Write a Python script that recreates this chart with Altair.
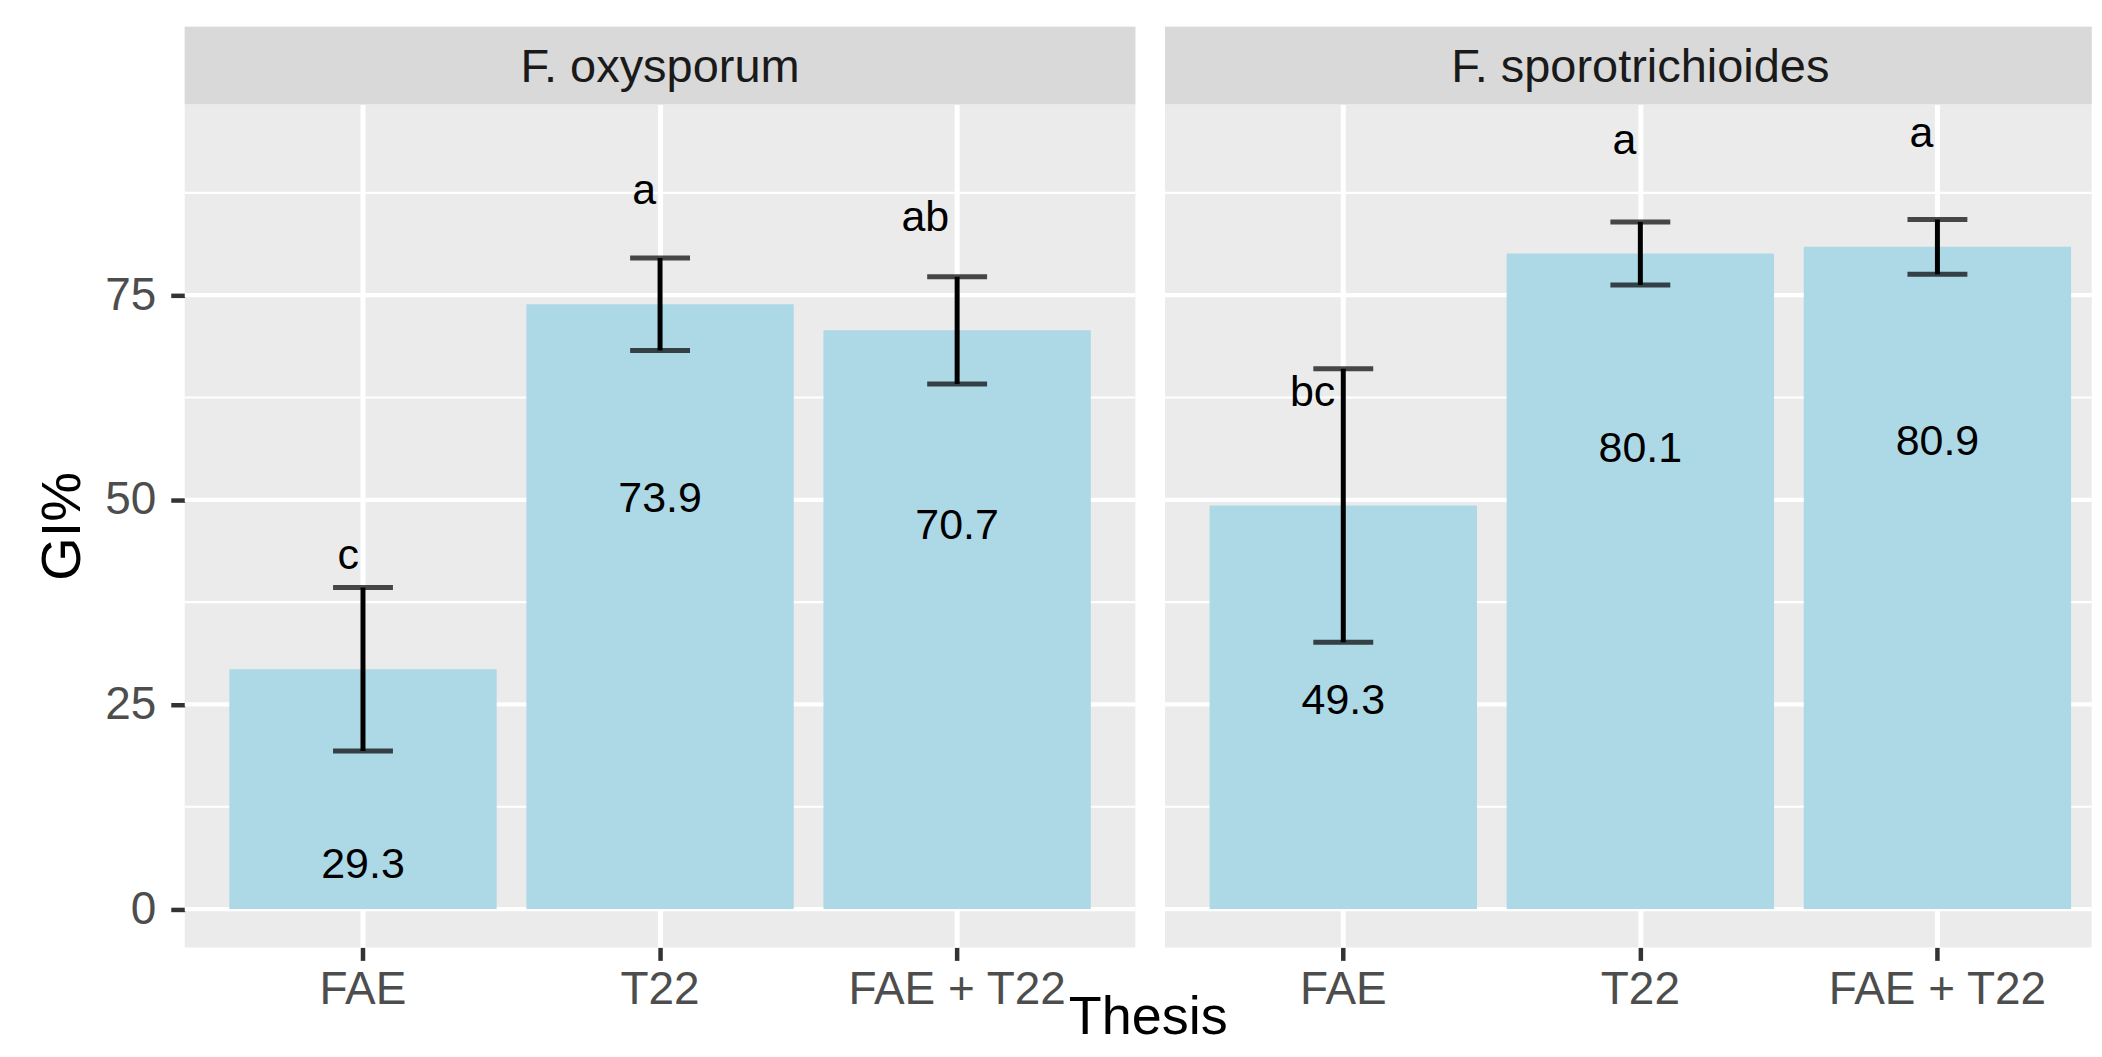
import altair as alt
import pandas as pd

# ---------------- data ----------------
theses = ["FAE", "T22", "FAE + T22"]
panel_names = ["F. oxysporum", "F. sporotrichioides"]

gi_oxy = [29.3, 73.9, 70.7]
sd_oxy = [10.0, 5.65, 6.55]
letters_oxy = ["c", "a", "ab"]

gi_spo = [49.3, 80.1, 80.9]
sd_spo = [16.7, 3.85, 3.35]
letters_spo = ["bc", "a", "a"]

major_grid = [0, 25, 50, 75]
minor_grid = [12.5, 37.5, 62.5, 87.5]

# ---------------- style ----------------
FONT = "Liberation Sans"
PW = 952          # full panel width
RIGHT_W = 928     # visible width of right panel (clipped by image edge)
PH = 844
STRIP_H = 78
Y_DOM = [-4.68, 98.28]
BAR = "#ADD8E6"
PANEL_BG = "#EBEBEB"
STRIP_BG = "#D9D9D9"
LETTER_UP = 12.2
LABEL_DOWN = 25.45
MAJOR_W = 4.3

P_IN = 0.1
P_OUT = 0.15
STEP = PW / (3 - P_IN + 2 * P_OUT)


def x_scale(width):
    if width >= PW:
        return alt.Scale(domain=theses, range=[0, width], paddingInner=P_IN,
                         paddingOuter=P_OUT)
    # same step/band positions as the full panel, just cut at the right edge
    po = (width / STEP - (3 - P_IN)) / 2
    leftover = 2 * po * STEP
    align = (P_OUT * STEP) / leftover
    return alt.Scale(domain=theses, range=[0, width], paddingInner=P_IN,
                     paddingOuter=po, align=align)


def make_panel(gi, sd, letters, width, show_y):
    df = pd.DataFrame({"Thesis": theses, "GI": gi, "SD": sd, "letter": letters})
    yscale = alt.Scale(domain=Y_DOM, nice=False, zero=False)
    xaxis = alt.Axis(
        title=None, domain=False, grid=True, gridColor="white", gridWidth=5.0,
        tickColor="#333333", tickWidth=4.5, tickSize=13, labelPadding=7,
        labelFontSize=46, labelColor="#4D4D4D", labelFont=FONT, labelAngle=0,
        labelLimit=0,
    )
    if show_y:
        yaxis = alt.Axis(
            values=major_grid, title="GI%", grid=False, domain=False,
            tickColor="#333333", tickWidth=4.5, tickSize=14, labelPadding=15,
            labelFontSize=46, labelColor="#4D4D4D", labelFont=FONT,
            titleFontSize=56, titleFont=FONT, titleFontWeight="normal",
            titleColor="black", titlePadding=25, titleBaseline="alphabetic",
        )
    else:
        yaxis = None
    X = alt.X("Thesis:N", scale=x_scale(width), sort=theses, axis=xaxis)

    def Y(field):
        return alt.Y(field, scale=yscale, axis=yaxis, title="GI%")

    minor = alt.Chart(pd.DataFrame({"GI": minor_grid})).mark_rule(
        color="white", strokeWidth=2.2).encode(y=Y("GI:Q"))
    major = alt.Chart(pd.DataFrame({"GI": major_grid})).mark_rule(
        color="white", strokeWidth=MAJOR_W).encode(y=Y("GI:Q"))

    base = alt.Chart(df).transform_calculate(
        lo="datum.GI - datum.SD",
        hi="datum.GI + datum.SD",
        let_y="datum.GI + %f" % LETTER_UP,
        lab_y="datum.GI - %f" % LABEL_DOWN,
        lab="format(datum.GI, '.1f')",
        nlet="length(datum.letter)",
    )
    bars = base.mark_bar(color=BAR).encode(x=X, y=Y("GI:Q"), y2=alt.datum(0))
    stems = base.mark_rule(color="black", strokeWidth=5).encode(
        x=X, y=Y("lo:Q"), y2="hi:Q")
    caps = base.transform_fold(["lo", "hi"], as_=["end", "val"]).mark_tick(
        color="black", thickness=5, size=60).encode(x=X, y=Y("val:Q"))
    labels = base.mark_text(font=FONT, fontSize=43, color="black",
                            baseline="alphabetic").encode(
        x=X, y=Y("lab_y:Q"), text="lab:N")
    lets1 = base.transform_filter("datum.nlet == 1").mark_text(
        font=FONT, fontSize=43, color="black", baseline="alphabetic",
        align="right", dx=-4).encode(x=X, y=Y("let_y:Q"), text="letter:N")
    lets2 = base.transform_filter("datum.nlet > 1").mark_text(
        font=FONT, fontSize=43, color="black", baseline="alphabetic",
        align="right", dx=-8).encode(x=X, y=Y("let_y:Q"), text="letter:N")

    return alt.layer(minor, major, bars, stems, caps, labels, lets1, lets2).properties(
        width=width, height=PH)


def make_strip(name, width):
    d = pd.DataFrame({"panel": [name]})
    rect = alt.Chart(d).mark_rect(color=STRIP_BG).encode(
        x=alt.value(0), x2=alt.value(width), y=alt.value(0), y2=alt.value(STRIP_H))
    txt = alt.Chart(d).mark_text(font=FONT, fontSize=47, color="#1A1A1A",
                                 baseline="alphabetic", align="center").encode(
        x=alt.value(PW / 2), y=alt.value(55), text="panel:N")
    return alt.layer(rect, txt).properties(width=width, height=STRIP_H)


left = alt.vconcat(make_strip(panel_names[0], PW),
                   make_panel(gi_oxy, sd_oxy, letters_oxy, PW, True), spacing=0)
right = alt.vconcat(make_strip(panel_names[1], RIGHT_W),
                    make_panel(gi_spo, sd_spo, letters_spo, RIGHT_W, False), spacing=0)

chart = alt.hconcat(left, right, spacing=28 - MAJOR_W).properties(
    title=alt.TitleParams(text="Thesis", orient="bottom", anchor="middle",
                          fontSize=54, font=FONT, fontWeight="normal",
                          color="black", offset=-21, dx=84),
    padding={"left": 26, "top": 18, "right": 0, "bottom": 0},
).configure(font=FONT).configure_view(fill=PANEL_BG, stroke=None)

chart.save("out.html", embed_options={"renderer": "svg", "actions": False})
